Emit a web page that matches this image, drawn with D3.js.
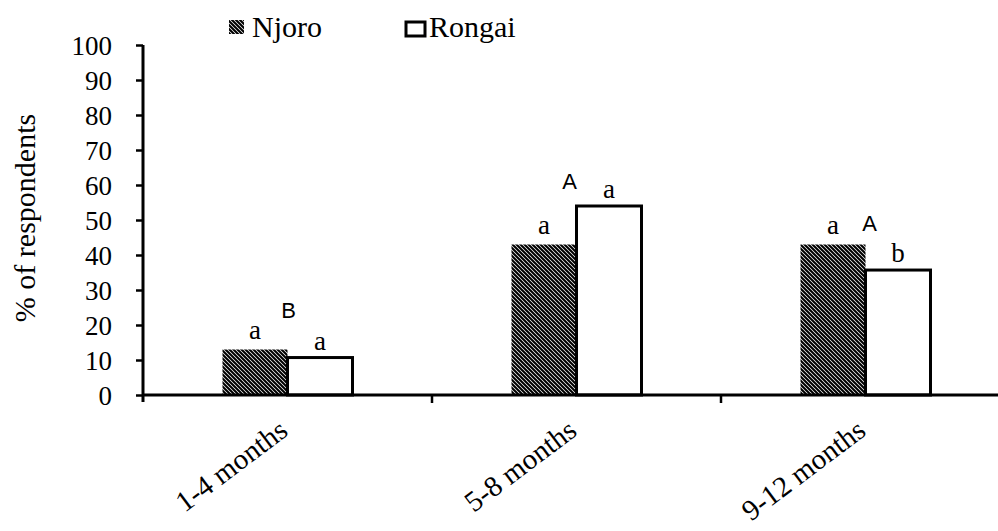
<!DOCTYPE html>
<html>
<head>
<meta charset="utf-8">
<script src="https://cdn.jsdelivr.net/npm/d3@7"></script>
</head>
<body style="margin:0">
<div id="chart"></div>
<script>
// data
var categories = ["1-4 months", "5-8 months", "9-12 months"];
var njoro = [13.0, 43.0, 43.0];
var rongai = [10.7, 54.0, 35.7];
var njoroLetters = ["a", "a", "a"];
var rongaiLetters = ["a", "a", "b"];
var groupLetters = ["B", "A", "A"];
var groupLetterY = [22, 59, 47];
var yTicks = [0, 10, 20, 30, 40, 50, 60, 70, 80, 90, 100];

var width = 998, height = 531;
var serif = "Liberation Serif";

var svg = d3.select("#chart").append("svg")
    .attr("width", width)
    .attr("height", height)
    .attr("font-family", serif);

// hatch for Njoro
var defs = svg.append("defs");
defs.append("pattern")
    .attr("id", "hatch")
    .attr("patternUnits", "userSpaceOnUse")
    .attr("width", 4).attr("height", 4)
  .append("path")
    .attr("d", "M-1,-1 L5,5 M-1,3 L1,5 M3,-1 L5,1")
    .attr("stroke", "#000")
    .attr("stroke-width", 2.1);

var x = d3.scaleBand().domain(categories).range([143, 1010]).padding(0);
var y = d3.scaleLinear().domain([0, 100]).range([395, 45]);
var barW = 65;

// bars
var g = svg.append("g");
g.selectAll(".njoro")
  .data(njoro)
  .enter().append("rect")
  .attr("class", "njoro")
  .attr("x", function(d, i) { return x(categories[i]) + x.bandwidth() / 2 - barW; })
  .attr("y", function(d) { return y(d); })
  .attr("width", barW)
  .attr("height", function(d) { return y(0) - y(d); })
  .attr("fill", "url(#hatch)");

g.selectAll(".rongai")
  .data(rongai)
  .enter().append("rect")
  .attr("class", "rongai")
  .attr("x", function(d, i) { return x(categories[i]) + x.bandwidth() / 2; })
  .attr("y", function(d) { return y(d); })
  .attr("width", barW)
  .attr("height", function(d) { return y(0) - y(d); })
  .attr("fill", "#fff")
  .attr("stroke", "#000")
  .attr("stroke-width", 3);

// letters over bars
g.selectAll(".nl")
  .data(njoroLetters)
  .enter().append("text")
  .attr("x", function(d, i) { return x(categories[i]) + x.bandwidth() / 2 - barW / 2; })
  .attr("y", function(d, i) { return y(njoro[i]) - 11; })
  .attr("text-anchor", "middle")
  .attr("font-size", 27)
  .text(function(d) { return d; });

g.selectAll(".rl")
  .data(rongaiLetters)
  .enter().append("text")
  .attr("x", function(d, i) { return x(categories[i]) + x.bandwidth() / 2 + barW / 2; })
  .attr("y", function(d, i) { return y(rongai[i]) - 8; })
  .attr("text-anchor", "middle")
  .attr("font-size", 27)
  .text(function(d) { return d; });

g.selectAll(".gl")
  .data(groupLetters)
  .enter().append("text")
  .attr("x", function(d, i) { return x(categories[i]) + x.bandwidth() / 2 + (i === 0 ? 1 : (i === 1 ? -7 : 4)); })
  .attr("y", function(d, i) { return y(groupLetterY[i]); })
  .attr("text-anchor", "middle")
  .attr("font-family", "Liberation Sans")
  .attr("font-size", 22)
  .text(function(d) { return d; });

// y axis
var yAxis = svg.append("g")
    .attr("transform", "translate(143,0)")
    .call(d3.axisLeft(y).tickValues(yTicks).tickSize(7).tickPadding(24));
yAxis.attr("font-family", serif).attr("font-size", 27);
yAxis.select(".domain").attr("d", "M0," + y(100) + "V" + (y(0) + 7));
yAxis.selectAll("line").attr("stroke-width", 2.5);
yAxis.select(".domain").attr("stroke-width", 3);
yAxis.selectAll("text").attr("dy", "0.35em");

// x axis with boundary ticks
var xAxisG = svg.append("g");
xAxisG.append("line")
    .attr("x1", 143).attr("x2", width)
    .attr("y1", y(0)).attr("y2", y(0))
    .attr("stroke", "#000").attr("stroke-width", 3);
xAxisG.selectAll(".xt")
  .data(categories.slice(1))
  .enter().append("line")
  .attr("x1", function(d) { return x(d); })
  .attr("x2", function(d) { return x(d); })
  .attr("y1", y(0)).attr("y2", y(0) + 8)
  .attr("stroke", "#000").attr("stroke-width", 2.5);

xAxisG.selectAll(".xl")
  .data(categories)
  .enter().append("text")
  .attr("transform", function(d) {
    return "translate(" + (x(d) + x.bandwidth() / 2 + 2) + "," + (y(0) + 39) + ") rotate(-37)";
  })
  .attr("text-anchor", "end")
  .attr("font-size", 29)
  .text(function(d) { return d; });

// y label
svg.append("text")
    .attr("transform", "translate(35,218) rotate(-90)")
    .attr("text-anchor", "middle")
    .attr("font-size", 30)
    .text("% of respondents");

// legend
var legend = svg.append("g");
legend.append("rect")
    .attr("x", 229).attr("y", 20).attr("width", 15).attr("height", 14)
    .attr("fill", "url(#hatch)");
legend.append("text")
    .attr("x", 252).attr("y", 37)
    .attr("font-size", 30)
    .text("Njoro");
legend.append("rect")
    .attr("x", 406).attr("y", 22).attr("width", 19).attr("height", 14)
    .attr("fill", "#fff").attr("stroke", "#000").attr("stroke-width", 3);
legend.append("text")
    .attr("x", 429).attr("y", 37)
    .attr("font-size", 30)
    .text("Rongai");
</script>
</body>
</html>
